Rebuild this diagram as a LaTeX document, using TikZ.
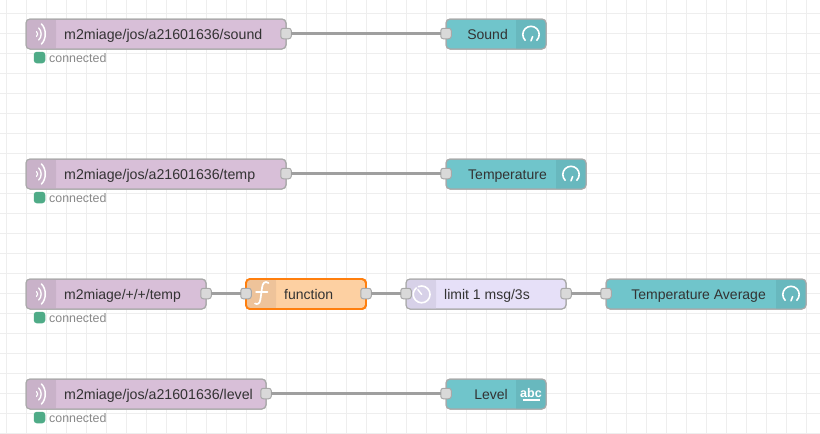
\documentclass[tikz,border=0pt]{standalone}
\usepackage{fontspec}
\setmainfont{Liberation Sans}
\definecolor{gridc}{HTML}{EEEEEE}
\definecolor{wirec}{HTML}{9F9F9F}
\definecolor{edgec}{HTML}{A8A8A8}
\definecolor{txt}{HTML}{333333}
\definecolor{mq}{HTML}{D8BFD8}
\definecolor{mqh}{HTML}{C9B2C9}
\definecolor{te}{HTML}{70C5CB}
\definecolor{teh}{HTML}{68B8BE}
\definecolor{fn}{HTML}{FDD0A2}
\definecolor{fnh}{HTML}{EEC39A}
\definecolor{fnedge}{HTML}{FF7F0E}
\definecolor{de}{HTML}{E6E0F8}
\definecolor{deh}{HTML}{D7D1E8}
\definecolor{porte}{HTML}{D9D9D9}
\definecolor{stat}{HTML}{4FAB87}
\definecolor{statt}{HTML}{888888}
\tikzset{
  x=1pt,y=-1pt,
  flownode/.style={draw=edgec,line width=1pt,rounded corners=4pt,inner sep=0pt,outer sep=0pt,minimum height=30pt,anchor=north west},
  portbox/.style={draw=edgec,fill=porte,line width=1pt,rounded corners=2.5pt,minimum width=10.5pt,minimum height=10.5pt,inner sep=0pt,outer sep=0pt},
  wire/.style={draw=wirec,line width=3.2pt},
  label/.style={text=txt,font=\fontsize{14}{14}\selectfont,inner sep=0pt},
  longlabel/.style={text=txt,font=\fontsize{14.2}{14.2}\selectfont,inner sep=0pt},
  statlabel/.style={text=statt,font=\fontsize{12.4}{12.4}\selectfont,inner sep=0pt,anchor=base west},
  statdot/.style={fill=stat,rounded corners=3pt,minimum size=11.5pt,inner sep=0pt},
  icon/.style={draw=white,line width=1.6pt,line cap=round}
}
% header left
\newcommand{\hleft}[4]{\fill[#4,rounded corners=3.5pt] (#1+0.5,#2+0.5) -- (#1+#3,#2+0.5) -- (#1+#3,#2+29.5) -- (#1+0.5,#2+29.5) -- cycle;
  \fill[#4] (#1+#3-5,#2+0.5) rectangle (#1+#3,#2+29.5);}
% header right
\newcommand{\hright}[4]{\fill[#4,rounded corners=3.5pt] (#1,#2+0.5) -- (#1+#3-0.5,#2+0.5) -- (#1+#3-0.5,#2+29.5) -- (#1,#2+29.5) -- cycle;
  \fill[#4] (#1,#2+0.5) rectangle (#1+5,#2+29.5);}
\newcommand{\mqttsign}[2]{\draw[draw=white,line width=1.5pt,line cap=round] (#1+15.5,#2+5) .. controls (#1+20.5,#2+10) and (#1+20.5,#2+20) .. (#1+15.5,#2+25);
  \draw[draw=white,line width=1.3pt,line cap=round] (#1+12.7,#2+9) .. controls (#1+16,#2+12) and (#1+16,#2+18) .. (#1+12.7,#2+21);
  \draw[draw=white,line width=1.1pt,line cap=round] (#1+10.5,#2+12.5) .. controls (#1+12,#2+13.5) and (#1+12,#2+16.5) .. (#1+10.5,#2+17.5);}
\newcommand{\gaugesign}[2]{\draw[icon] (#1+9.2,#2+21.3) arc[start angle=135,end angle=405,radius=8.2];
  \draw[icon] (#1+15,#2+21.8) -- (#1+16.6,#2+17.6);}
\begin{document}
\begin{tikzpicture}
\useasboundingbox (0,0) rectangle (820,434);
\fill[white] (0,0) rectangle (820,434);
\foreach \gx in {6,26,...,806} \draw[gridc,line width=1pt] (\gx,0) -- (\gx,434);
\foreach \gy in {13.5,33.5,...,433.5} \draw[gridc,line width=1pt] (0,\gy) -- (820,\gy);

% node bodies
\node[flownode,fill=mq,minimum width=260pt] (a) at (26,19) {};
\node[flownode,fill=te,minimum width=100pt] (sound) at (446,19) {};
\node[flownode,fill=mq,minimum width=260pt] (b) at (26,159) {};
\node[flownode,fill=te,minimum width=140pt] (tempg) at (446,159) {};
\node[flownode,fill=mq,minimum width=180pt] (c) at (26,279) {};
\node[flownode,fill=fn,draw=fnedge,line width=1.8pt,minimum width=120pt] (func) at (246,279) {};
\node[flownode,fill=de,minimum width=160pt] (lim) at (406,279) {};
\node[flownode,fill=te,minimum width=200pt] (avg) at (606,279) {};
\node[flownode,fill=mq,minimum width=240pt] (d) at (26,379) {};
\node[flownode,fill=te,minimum width=100pt] (level) at (446,379) {};

% icon sections
\hleft{26}{19}{30}{mqh} \mqttsign{26}{19}
\hleft{26}{159}{30}{mqh} \mqttsign{26}{159}
\hleft{26}{279}{30}{mqh} \mqttsign{26}{279}
\hleft{26}{379}{30}{mqh} \mqttsign{26}{379}
\hleft{246}{279}{30}{fnh}
\hleft{406}{279}{30}{deh}
\hright{516}{19}{30}{teh} \gaugesign{516}{19}
\hright{556}{159}{30}{teh} \gaugesign{556}{159}
\hright{776}{279}{30}{teh} \gaugesign{776}{279}
\hright{516}{379}{30}{teh}

% redraw outlines over the icon sections
\draw[edgec,line width=1pt,rounded corners=4pt] (a.north west) rectangle (a.south east);
\draw[edgec,line width=1pt,rounded corners=4pt] (sound.north west) rectangle (sound.south east);
\draw[edgec,line width=1pt,rounded corners=4pt] (b.north west) rectangle (b.south east);
\draw[edgec,line width=1pt,rounded corners=4pt] (tempg.north west) rectangle (tempg.south east);
\draw[edgec,line width=1pt,rounded corners=4pt] (c.north west) rectangle (c.south east);
\draw[fnedge,line width=1.8pt,rounded corners=4pt] (func.north west) rectangle (func.south east);
\draw[edgec,line width=1pt,rounded corners=4pt] (lim.north west) rectangle (lim.south east);
\draw[edgec,line width=1pt,rounded corners=4pt] (avg.north west) rectangle (avg.south east);
\draw[edgec,line width=1pt,rounded corners=4pt] (d.north west) rectangle (d.south east);
\draw[edgec,line width=1pt,rounded corners=4pt] (level.north west) rectangle (level.south east);

% function and delay icons
\draw[draw=white,line width=1.7pt,line cap=round] (268.5,283) .. controls (265,280.5) and (262.5,283) .. (262,288) -- (260.5,299) .. controls (260,303.5) and (257.5,305) .. (255,303.5);
\draw[draw=white,line width=1.5pt,line cap=round] (256,292) -- (267.5,292);
\draw[draw=white,line width=1.6pt,line cap=round] (418.5,286.6) arc[start angle=248,end angle=590,radius=8.4];
\draw[draw=white,line width=1.4pt,line cap=round] (421.7,294.5) -- (417.8,289.5);
\node[text=white,inner sep=0pt,font=\fontsize{12.5}{12.5}\selectfont\bfseries] (abc) at (531,392.6) {abc};
\draw[white,line width=1.3pt] (523,400) -- (539.5,400);

% labels
\node[longlabel,anchor=base west] (ta) at (64,39) {m2miage/jos/a21601636/sound};
\node[label,anchor=base east] (ts) at (508,39) {Sound};
\node[longlabel,anchor=base west] (tb) at (64,179) {m2miage/jos/a21601636/temp};
\node[label,anchor=base east] (tt) at (547,179) {Temperature};
\node[label,anchor=base west] (tc) at (64,299) {m2miage/+/+/temp};
\node[label,anchor=base west] (tf) at (284,299) {function};
\node[label,anchor=base west] (tl) at (444,299) {limit 1 msg/3s};
\node[label,anchor=base east] (tv) at (766,299) {Temperature Average};
\node[longlabel,anchor=base west] (td) at (64,399) {m2miage/jos/a21601636/level};
\node[label,anchor=base east] (tz) at (508,399) {Level};

% status
\node[statdot] (s1) at (39.5,57.5) {}; \node[statlabel] (l1) at (49,62) {connected};
\node[statdot] (s2) at (39.5,197.5) {}; \node[statlabel] (l2) at (49,202) {connected};
\node[statdot] (s3) at (39.5,317.5) {}; \node[statlabel] (l3) at (49,322) {connected};
\node[statdot] (s4) at (39.5,417.5) {}; \node[statlabel] (l4) at (49,422) {connected};

% ports
\node[portbox] (pa) at (286,33.5) {};
\node[portbox] (ps) at (446,33.5) {};
\node[portbox] (pb) at (286,173.5) {};
\node[portbox] (pt) at (446,173.5) {};
\node[portbox] (pc) at (206,293.5) {};
\node[portbox] (pfi) at (246,293.5) {};
\node[portbox] (pfo) at (366,293.5) {};
\node[portbox] (pli) at (406,293.5) {};
\node[portbox] (plo) at (566,293.5) {};
\node[portbox] (pv) at (606,293.5) {};
\node[portbox] (pd) at (266,393.5) {};
\node[portbox] (pz) at (446,393.5) {};

% wires
\draw[wire] (pa) -- (ps);
\draw[wire] (pb) -- (pt);
\draw[wire] (pc) -- (pfi);
\draw[wire] (pfo) -- (pli);
\draw[wire] (plo) -- (pv);
\draw[wire] (pd) -- (pz);
\end{tikzpicture}
\end{document}
